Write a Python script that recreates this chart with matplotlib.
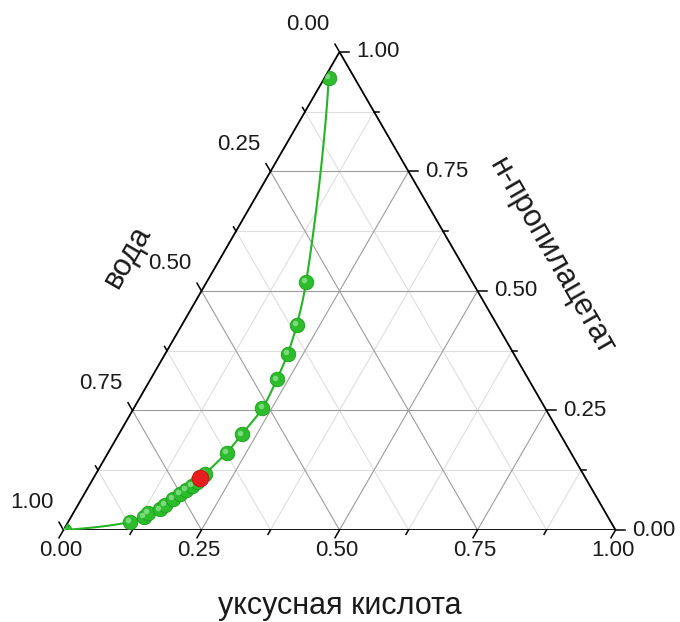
import numpy as np
import matplotlib
matplotlib.use("Agg")
import matplotlib.pyplot as plt
from matplotlib.patches import Polygon
from matplotlib.transforms import offset_copy

plt.rcParams['font.family'] = ['Liberation Sans', 'DejaVu Sans']

# Binodal curve of the water / acetic acid / n-propyl acetate system (mass fractions)
acid = [0.000, 0.112, 0.131, 0.136, 0.153, 0.158, 0.166, 0.173, 0.180, 0.187,
        0.192, 0.198, 0.215, 0.223, 0.233, 0.229, 0.222, 0.208, 0.180, 0.008]
ester = [0.000, 0.017, 0.028, 0.035, 0.043, 0.052, 0.065, 0.075, 0.084, 0.092,
         0.100, 0.117, 0.162, 0.200, 0.255, 0.315, 0.368, 0.429, 0.519, 0.945]
water = [1.000, 0.871, 0.841, 0.829, 0.804, 0.790, 0.769, 0.752, 0.736, 0.721,
         0.708, 0.685, 0.623, 0.577, 0.512, 0.456, 0.410, 0.363, 0.301, 0.047]

# Critical (plait) point
crit_acid = [0.193]
crit_ester = [0.108]
crit_water = [0.699]

tick_values = [0.00, 0.25, 0.50, 0.75, 1.00]
tick_labels = ["0.00", "0.25", "0.50", "0.75", "1.00"]
minor_values = [0.125, 0.375, 0.625, 0.875]

title_bottom = "уксусная кислота"
title_left = "вода"
title_right = "н-пропилацетат"

S3 = np.sqrt(3) / 2


def to_xy(a, p, w):
    a, p, w = (np.asarray(v, float) for v in (a, p, w))
    s = a + p + w
    return (a + p / 2) / s, p * S3 / s


def catmull_rom(pts, start_dir, end_dir, n=40, alpha=0.5):
    """Centripetal Catmull-Rom spline; the end tangents follow the given directions."""
    d0 = np.linalg.norm(pts[1] - pts[0])
    d1 = np.linalg.norm(pts[-1] - pts[-2])
    first = pts[0] - np.asarray(start_dir) * d0
    last = pts[-1] + np.asarray(end_dir) * d1
    P = np.vstack([first, pts, last])
    out = []
    for i in range(1, len(P) - 2):
        p0, p1, p2, p3 = P[i - 1:i + 3]
        t0 = 0.0
        t1 = t0 + np.linalg.norm(p1 - p0) ** alpha
        t2 = t1 + np.linalg.norm(p2 - p1) ** alpha
        t3 = t2 + np.linalg.norm(p3 - p2) ** alpha
        t = np.linspace(t1, t2, n)[:, None]
        A1 = (t1 - t) / (t1 - t0) * p0 + (t - t0) / (t1 - t0) * p1
        A2 = (t2 - t) / (t2 - t1) * p1 + (t - t1) / (t2 - t1) * p2
        A3 = (t3 - t) / (t3 - t2) * p2 + (t - t2) / (t3 - t2) * p3
        B1 = (t2 - t) / (t2 - t0) * A1 + (t - t0) / (t2 - t0) * A2
        B2 = (t3 - t) / (t3 - t1) * A2 + (t - t1) / (t3 - t1) * A3
        C = (t2 - t) / (t2 - t1) * B1 + (t - t1) / (t2 - t1) * B2
        out.append(C if i == 1 else C[1:])
    return np.vstack(out)


W, H, DPI = 680, 622, 100
fig = plt.figure(figsize=(W / DPI, H / DPI), dpi=DPI)
side_px = 552.0
x0_px, y0_px = 63.5, 530.0
ax = fig.add_axes([x0_px / W, (H - y0_px) / H, side_px / W, side_px * S3 / H])
ax.set_xlim(0, 1)
ax.set_ylim(0, S3)
ax.axis('off')

px = 1.0 / side_px  # one pixel in triangle units
text_col = '#1a1a1a'

# grid
for v, col, lw in [(m, '#dedede', 0.8) for m in minor_values] + \
                  [(m, '#9c9c9c', 0.8) for m in tick_values[1:-1]]:
    # constant acid
    xa, ya = to_xy([v, v], [0, 1 - v], [1 - v, 0])
    ax.plot(xa, ya, color=col, lw=lw, zorder=1)
    # constant ester
    xe, ye = to_xy([0, 1 - v], [v, v], [1 - v, 0])
    ax.plot(xe, ye, color=col, lw=lw, zorder=1)
    # constant water
    xw, yw = to_xy([1 - v, 0], [0, 1 - v], [v, v])
    ax.plot(xw, yw, color=col, lw=lw, zorder=1)

# triangle frame
tri = Polygon([[0, 0], [1, 0], [0.5, S3]], closed=True, fill=False,
              edgecolor='black', lw=1.3, zorder=5, joinstyle='miter')
ax.add_patch(tri)
clip_tri = Polygon([[0, 0], [1, 0], [0.5, S3]], closed=True, transform=ax.transData)

# ticks
maj_len, min_len = 9 * px, 5 * px
d_bottom = np.array([-0.5, -S3])
d_right = np.array([1.0, 0.0])
d_left = np.array([-0.5, S3])
all_ticks = [(v, maj_len) for v in tick_values] + [(v, min_len) for v in minor_values]
for v, L in all_ticks:
    bx, by = to_xy(v, 0, 1 - v)
    ax.plot([bx, bx + d_bottom[0] * L], [by, by + d_bottom[1] * L], color='black', lw=1.1,
            clip_on=False, zorder=5)
    rx, ry = to_xy(1 - v, v, 0)
    ax.plot([rx, rx + d_right[0] * L], [ry, ry + d_right[1] * L], color='black', lw=1.1,
            clip_on=False, zorder=5)
    lx, ly = to_xy(0, 1 - v, v)
    ax.plot([lx, lx + d_left[0] * L], [ly, ly + d_left[1] * L], color='black', lw=1.1,
            clip_on=False, zorder=5)

# tick labels
fs_tick = 16
for v, lab in zip(tick_values, tick_labels):
    bx, by = to_xy(v, 0, 1 - v)
    ax.text(bx - 2.5 * px, by - 20 * px, lab, ha='center', va='center', fontsize=fs_tick,
            color=text_col, clip_on=False)
    rx, ry = to_xy(1 - v, v, 0)
    ax.text(rx + 17 * px, ry, lab, ha='left', va='center', fontsize=fs_tick,
            color=text_col, clip_on=False)
    lx, ly = to_xy(0, 1 - v, v)
    ax.text(lx - 32 * px, ly + 27 * px, lab, ha='center', va='center', fontsize=fs_tick,
            color=text_col, clip_on=False)

# axis titles
fs_title = 22
ax.text(0.501, -84 * px, title_bottom, ha='center', va='baseline', fontsize=fs_title,
        color=text_col, clip_on=False)
ax.text(0.116, 0.496, title_left, ha='center', va='center', rotation=60,
        rotation_mode='anchor', fontsize=fs_title, color=text_col, clip_on=False)
ax.text(0.884, 0.495, title_right, ha='center', va='center', rotation=-60,
        rotation_mode='anchor', fontsize=fs_title, color=text_col, clip_on=False)

# binodal curve (leaves the water corner along the base, ends heading to the ester corner)
xs, ys = to_xy(acid, ester, water)
curve = catmull_rom(np.column_stack([xs, ys]), start_dir=[1.0, 0.0], end_dir=[0.0, 1.0])
ax.plot(curve[:, 0], curve[:, 1], color='#27b327', lw=1.5, zorder=6, solid_capstyle='round')

# shaded spherical markers
hl = offset_copy(ax.transData, fig=fig, x=-1.8, y=1.8, units='dots')
base, = ax.plot(xs, ys, 'o', ms=10.5, mfc='#2cbc2c', mec='#1c9c1c', mew=0.6, zorder=7)
shine, = ax.plot(xs, ys, 'o', ms=4, mfc='#9be89b', mec='none', alpha=0.7, zorder=8,
                 transform=hl)
base.set_clip_path(clip_tri)
shine.set_clip_path(clip_tri)

cx, cy = to_xy(crit_acid, crit_ester, crit_water)
red, = ax.plot(cx, cy, 'o', ms=12, mfc='#e81e1e', mec='#c01010', mew=0.6, zorder=9)
red.set_clip_path(clip_tri)

fig.savefig('out.png', dpi=DPI)
